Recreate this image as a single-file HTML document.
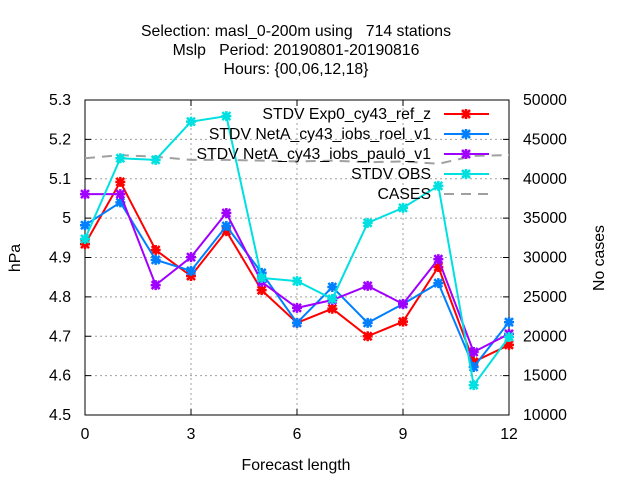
<!DOCTYPE html>
<html><head><meta charset="utf-8"><style>
body{margin:0;background:#fff}
svg text{font-family:"Liberation Sans",sans-serif;font-size:15.8px;fill:#000;white-space:pre}
</style></head><body>
<svg id="chart" width="640" height="480" xmlns="http://www.w3.org/2000/svg">
<rect width="640" height="480" fill="#fff"/>
<g>
<text x="296" y="36" text-anchor="middle" xml:space="preserve">Selection: masl_0-200m using   714 stations</text>
<text x="296" y="55" text-anchor="middle" xml:space="preserve">Mslp   Period: 20190801-20190816</text>
<text x="296" y="74" text-anchor="middle">Hours: {00,06,12,18}</text>
</g>
<text x="296" y="470" text-anchor="middle">Forecast length</text>
<text x="20" y="258" text-anchor="middle" transform="rotate(-90 20 258)">hPa</text>
<text x="604" y="258" text-anchor="middle" transform="rotate(-90 604 258)">No cases</text>
<g id="grid"></g><g id="axes"></g><g id="series"></g><g id="legend"></g>
</svg>
<script>
const xTicks=[0,3,6,9,12];
const yTicks=[4.5,4.6,4.7,4.8,4.9,5,5.1,5.2,5.3];
const yTickLabels=["4.5","4.6","4.7","4.8","4.9","5","5.1","5.2","5.3"];
const y2Ticks=[10000,15000,20000,25000,30000,35000,40000,45000,50000];
const leads=[0,1,2,3,4,5,6,7,8,9,10,11,12];
const redVals=[4.934,5.092,4.919,4.853,4.967,4.817,4.734,4.770,4.700,4.737,4.876,4.635,4.678];
const blueVals=[4.982,5.040,4.894,4.866,4.980,4.861,4.734,4.825,4.734,4.782,4.835,4.622,4.736];
const purpleVals=[5.061,5.061,4.830,4.901,5.013,4.838,4.772,4.792,4.828,4.782,4.896,4.660,4.706];
const cyanVals=[4.947,5.152,5.148,5.245,5.259,4.848,4.840,4.795,4.988,5.026,5.082,4.576,4.698];
const casesVals=[42600,43000,42800,42400,42400,42300,42200,42300,42100,42200,41900,42900,43000];
const seriesNames=["STDV Exp0_cy43_ref_z","STDV NetA_cy43_iobs_roel_v1","STDV NetA_cy43_iobs_paulo_v1","STDV OBS","CASES"];

const X0=85,X1=509,Y0=415,Y1=100;
const sx=v=>X0+(v-0)/12*(X1-X0);
const sy=v=>Y0-(v-4.5)/0.8*(Y0-Y1);
const sy2=v=>Y0-(v-10000)/40000*(Y0-Y1);
const NS="http://www.w3.org/2000/svg";
function mk(tag,attrs,parent){const e=document.createElementNS(NS,tag);for(const k in attrs)e.setAttribute(k,attrs[k]);parent.appendChild(e);return e;}
const grid=document.getElementById('grid'),axes=document.getElementById('axes'),ser=document.getElementById('series'),leg=document.getElementById('legend');
xTicks.forEach(t=>{if(t>0&&t<12){const l=mk('line',{x1:sx(t),x2:sx(t),y1:Y0,y2:Y1,stroke:'#a0a0a0','stroke-dasharray':'2,3'},grid);

}});
yTicks.forEach(t=>{if(t>4.5&&t<5.3){const l=mk('line',{x1:X0,x2:X1,y1:sy(t),y2:sy(t),stroke:'#a0a0a0','stroke-dasharray':'2,3'},grid);

}});
const fr=mk('rect',{x:X0,y:Y1,width:X1-X0,height:Y0-Y1,fill:'none',stroke:'#000'},axes);


xTicks.forEach(t=>{mk('line',{x1:sx(t),x2:sx(t),y1:Y0,y2:Y0-6,stroke:'#000'},axes);mk('line',{x1:sx(t),x2:sx(t),y1:Y1,y2:Y1+6,stroke:'#000'},axes);
const tx=mk('text',{x:sx(t),y:Y0+24,'text-anchor':'middle'},axes);tx.textContent=t;

});
yTicks.forEach((t,i)=>{mk('line',{x1:X0,x2:X0+6,y1:sy(t),y2:sy(t),stroke:'#000'},axes);
const tx=mk('text',{x:X0-14,y:sy(t)+5,'text-anchor':'end'},axes);tx.textContent=yTickLabels[i];

});
y2Ticks.forEach(t=>{mk('line',{x1:X1,x2:X1-6,y1:sy2(t),y2:sy2(t),stroke:'#000'},axes);
const tx=mk('text',{x:X1+14,y:sy2(t)+5,'text-anchor':'start'},axes);tx.textContent=t;

});
function star(g,x,y,c){mk('path',{d:`M${x-4},${y-4}L${x+4},${y+4}M${x-4},${y+4}L${x+4},${y-4}M${x-5},${y}L${x+5},${y}M${x},${y-5}L${x},${y+5}`,stroke:c,'stroke-width':2.5},g);}
const cg=mk('g',{},ser);


mk('polyline',{points:leads.map((l,i)=>sx(l)+','+sy2(casesVals[i])).join(' '),fill:'none',stroke:'#a0a0a0','stroke-width':2,'stroke-dasharray':'10,7'},cg);
const defs=[[redVals,'#ff0000','red-series'],[blueVals,'#0080ff','blue-series'],[purpleVals,'#a000ff','purple-series'],[cyanVals,'#00e0e0','cyan-obs-series']];
defs.forEach(([vals,c,n])=>{const g=mk('g',{},ser);


mk('polyline',{points:leads.map((l,i)=>sx(l)+','+sy(vals[i])).join(' '),fill:'none',stroke:c,'stroke-width':2},g);
leads.forEach((l,i)=>star(g,sx(l),sy(vals[i]),c));});
const lc=['#ff0000','#0080ff','#a000ff','#00e0e0','#a0a0a0'];
seriesNames.forEach((n,i)=>{const y=114+i*20;const g=mk('g',{},leg);


const t=mk('text',{x:431,y:y+5,'text-anchor':'end'},g);t.textContent=n;
if(i<4){mk('line',{x1:444,x2:489,y1:y,y2:y,stroke:lc[i],'stroke-width':2},g);star(g,466,y,lc[i]);}
else mk('line',{x1:444,x2:489,y1:y,y2:y,stroke:lc[i],'stroke-width':2,'stroke-dasharray':'10,7'},g);});
</script>
</body></html>
